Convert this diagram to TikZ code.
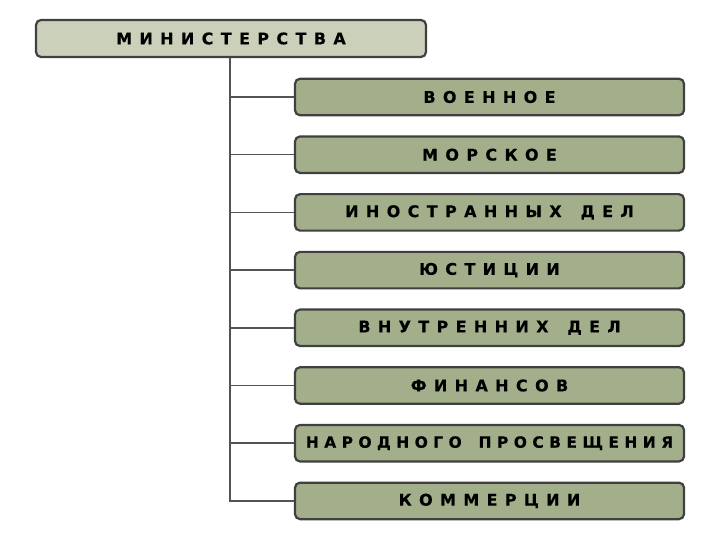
\documentclass[tikz,border=0pt]{standalone}
\usepackage{fontspec}
\usepackage{tikz}
\usetikzlibrary{positioning}
\newfontfamily\capsfont{DejaVu Sans}[LetterSpace=46, FakeBold=0.4]
\newfontfamily\capsfontnarrow{DejaVu Sans}[LetterSpace=35, FakeBold=0.4]
\newcommand{\wgap}{\hspace{6pt} }
\definecolor{headfill}{HTML}{CBD0BA}
\definecolor{deptfill}{HTML}{A2AF8A}
\definecolor{boxline}{HTML}{404040}
\tikzset{
  headbox/.style={
    rectangle, rounded corners=5pt, draw=boxline, line width=2.2pt,
    fill=headfill, align=center, inner sep=0pt, font=\capsfont\bfseries\fontsize{16}{18}\selectfont,
    minimum width=390pt, minimum height=37pt
  },
  deptbox/.style={
    rectangle, rounded corners=5pt, draw=boxline, line width=2.2pt,
    fill=deptfill, align=center, inner sep=0pt, font=\capsfont\bfseries\fontsize{16}{18}\selectfont,
    minimum width=389pt, minimum height=36.5pt
  },
  link/.style={line width=1.5pt, draw=boxline!90}
}
\begin{document}
\begin{tikzpicture}[x=1pt, y=-1pt, node distance=19pt]
\useasboundingbox (0,0) rectangle (720,540);

\node[headbox] (min) at (231,38.5) {МИНИСТЕРСТВА};
\node[deptbox] (voen) at (489.5,97) {ВОЕННОЕ};
\node[deptbox, below=of voen] (mor) {МОРСКОЕ};
\node[deptbox, below=of mor] (inos) {ИНОСТРАННЫХ\wgap ДЕЛ};
\node[deptbox, below=of inos] (just) {ЮСТИЦИИ};
\node[deptbox, below=of just] (vnut) {ВНУТРЕННИХ\wgap ДЕЛ};
\node[deptbox, below=of vnut] (fin) {ФИНАНСОВ};
\node[deptbox, below=of fin, font=\capsfontnarrow\bfseries\fontsize{15.5}{18}\selectfont] (nar) {НАРОДНОГО\wgap ПРОСВЕЩЕНИЯ};
\node[deptbox, below=of nar] (kom) {КОММЕРЦИИ};

\coordinate (trunk) at ([xshift=195pt]min.south west);

\draw[link] (trunk) |- (voen.west);
\draw[link] (trunk) |- (mor.west);
\draw[link] (trunk) |- (inos.west);
\draw[link] (trunk) |- (just.west);
\draw[link] (trunk) |- (vnut.west);
\draw[link] (trunk) |- (fin.west);
\draw[link] (trunk) |- (nar.west);
\draw[link] (trunk) |- (kom.west);

\end{tikzpicture}
\end{document}
